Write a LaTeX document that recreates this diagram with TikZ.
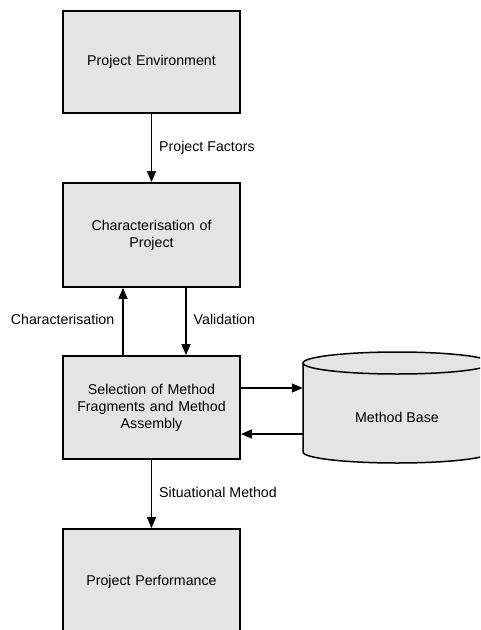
\documentclass[tikz,border=0pt]{standalone}
\usepackage{fontspec}
\setmainfont{Liberation Sans}
\usetikzlibrary{arrows.meta}
\begin{document}
\begin{tikzpicture}[x=1pt,y=-1pt,
  every node/.style={font=\fontsize{14.2}{17}\selectfont},
  stepbox/.style={draw=black,line width=1.8pt,fill=boxgray,minimum width=177pt,
    minimum height=103pt,inner sep=0pt,align=center,text width=165pt},
  arr/.style={line width=1.4pt,-{Triangle[length=11pt,width=9pt]}},
  lbl/.style={inner sep=0pt}]
\definecolor{boxgray}{HTML}{E4E4E4}
\useasboundingbox (0,0) rectangle (480,630);
\clip (0,0) rectangle (480,630);

% process boxes
\node[stepbox,minimum height=102pt] (env) at (151.5,62) {Project Environment};
\node[stepbox,minimum height=104pt] (char) at (151.5,235) {Characterisation of\\Project};
\node[stepbox] (sel) at (151.5,407.5) {Selection of Method\\Fragments and Method\\Assembly};
\node[stepbox,minimum height=106pt] (perf) at (151.5,582) {\raisebox{3pt}{Project Performance}};

% method base cylinder
\node[draw=none,minimum width=188pt,minimum height=111pt,inner sep=0pt] (mb) at (397,407.5) {};
\fill[boxgray] (303,363) -- (303,452) arc[start angle=180,end angle=0,x radius=94,y radius=11]
  -- (491,363) arc[start angle=0,end angle=-180,x radius=94,y radius=11] -- cycle;
\draw[line width=1.5pt] (303,363) -- (303,452) arc[start angle=180,end angle=0,x radius=94,y radius=11]
  -- (491,363);
\draw[line width=1.5pt] (397,363) ellipse[x radius=94,y radius=11];
\node at (397,417) {Method Base};

% connectors
\draw[arr] (env.south) -- node[lbl,anchor=west,xshift=7pt] {Project Factors} (char.north);
\draw[arr] ([xshift=-28.5pt]sel.north) -- node[lbl,anchor=east,xshift=-8pt,yshift=2pt] {Characterisation} ([xshift=-28.5pt]char.south);
\draw[arr] ([xshift=34.5pt]char.south) -- node[lbl,anchor=west,xshift=7pt,yshift=2.5pt] {Validation} ([xshift=34.5pt]sel.north);
\draw[arr] ([yshift=19.5pt]sel.east) -- ([yshift=19.5pt]mb.west);
\draw[arr] ([yshift=-26.5pt]mb.west) -- ([yshift=-26.5pt]sel.east);
\draw[arr] (sel.south) -- node[lbl,anchor=west,xshift=7pt,yshift=2pt] {Situational Method} (perf.north);
\end{tikzpicture}
\end{document}
